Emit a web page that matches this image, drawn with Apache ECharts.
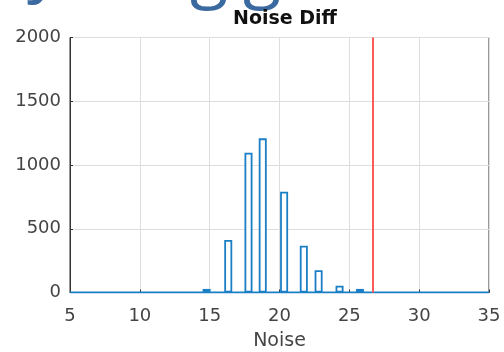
<!DOCTYPE html>
<html><head><meta charset="utf-8">
<script src="https://cdn.jsdelivr.net/npm/echarts@6/dist/echarts.min.js"></script>
<style>html,body{margin:0;padding:0;background:#fff}#c{width:504px;height:352px}</style>
</head><body><div id="c"></div>
<script>
const binCenters = [14.78, 16.33, 17.78, 18.8, 20.33, 21.74, 22.8, 24.3, 25.76];
const counts = [28, 412, 1097, 1209, 791, 367, 174, 53, 28];
const xRange = [5, 35];
const yRange = [0, 2000];
const threshold = 26.67;
const titleText = 'Noise Diff';
const xLabel = 'Noise';

const chart = echarts.init(document.getElementById('c'), null, {renderer: 'canvas'});
const blue = '#1b7fc6';
const font = 'DejaVu Sans';
chart.setOption({
  animation: false,
  backgroundColor: '#fff',
  title: {text: titleText, left: 280, textAlign: 'center', top: 5,
    textStyle: {fontFamily: font, fontWeight: 'bold', fontSize: 19, color: '#111'}},
  graphic: [
    {type: 'text', left: 27, top: -67, style: {text: 'y', font: '70px "Open Sans"', fill: '#3a6aa0'}},
    {type: 'text', left: 190, top: -61, style: {text: 'g', font: '70px "Open Sans"', fill: '#3a6aa0'}},
    {type: 'text', left: 243, top: -61, style: {text: 'g', font: '70px "Open Sans"', fill: '#3a6aa0'}}
  ],
  grid: {left: 70, right: 15, top: 37.5, bottom: 59.5, show: true, borderColor: '#333', borderWidth: 1,
    backgroundColor: 'transparent', containLabel: false, outerBoundsMode: 'none'},
  xAxis: {type: 'value', min: xRange[0], max: xRange[1], interval: 5,
    name: xLabel, nameLocation: 'middle', nameGap: 39,
    nameTextStyle: {fontFamily: font, fontSize: 19, color: '#444'},
    axisLine: {show: true, lineStyle: {color: '#333'}},
    axisTick: {show: true, inside: true, length: 3, lineStyle: {color: '#333'}},
    axisLabel: {fontFamily: font, fontSize: 18, color: '#444', margin: 15},
    splitLine: {show: true, lineStyle: {color: '#dedede'}}},
  yAxis: {type: 'value', min: yRange[0], max: yRange[1], interval: 500,
    axisLine: {show: true, lineStyle: {color: '#333'}},
    axisTick: {show: true, inside: true, length: 3, lineStyle: {color: '#333'}},
    axisLabel: {fontFamily: font, fontSize: 18, color: '#444', margin: 9, formatter: v => String(v)},
    splitLine: {show: true, lineStyle: {color: '#dedede'}}},
  series: [
    {type: 'bar', barWidth: 8, data: binCenters.map((c, i) => [c, counts[i]]),
      itemStyle: {color: '#fff', borderColor: blue, borderWidth: 1.8}, z: 3},
    {type: 'line', data: [[xRange[0], 0], [xRange[1], 0]], showSymbol: false,
      lineStyle: {color: blue, width: 2}, z: 4,
      markLine: {silent: true, symbol: 'none', label: {show: false},
        lineStyle: {color: '#ff5a5a', width: 2, type: 'solid'},
        data: [{xAxis: threshold}]}}
  ]
});
</script></body></html>
